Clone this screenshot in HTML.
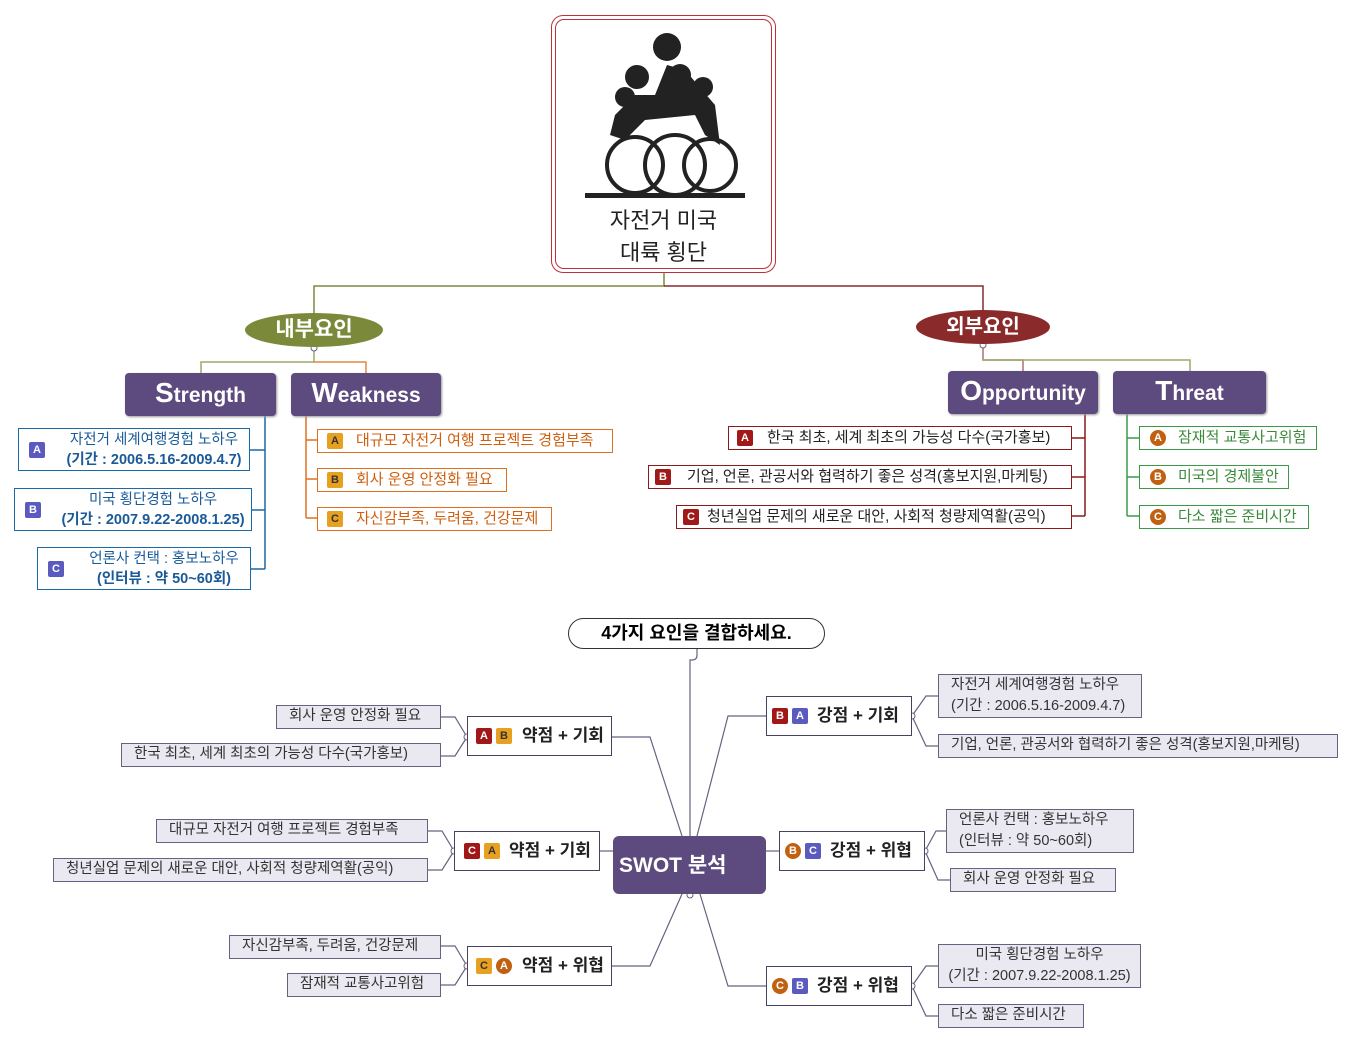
<!DOCTYPE html>
<html><head><meta charset="utf-8"><style>
*{margin:0;padding:0;box-sizing:border-box}
body{width:1360px;height:1041px;background:#fff;position:relative;overflow:hidden;font-family:"Liberation Sans","Noto Sans CJK KR",sans-serif}
.a{position:absolute}
.hd{position:absolute;background:#5d4a7e;color:#fff;border-radius:4px;font-weight:bold;font-size:21px;text-align:center;line-height:40px;box-shadow:1px 1px 2px #999}
.hd b{font-size:28px}
.sb{position:absolute;border:1.5px solid #1a6aa8;color:#1a5a98;font-size:14.5px;line-height:20px;text-align:center;padding:1px 0 0 40px}
.bd{position:absolute;width:16px;height:16px;border-radius:2px;color:#fff;font-size:11px;font-weight:bold;line-height:16px;text-align:center}
.ci{border-radius:50%}
.ob{position:absolute;border:1.5px solid;font-size:15px;line-height:22px;padding-left:38px;white-space:nowrap}
.br{position:absolute;background:#fff;border:1.5px solid #4a4060;font-size:17px;font-weight:bold;line-height:38px;padding-left:36px;white-space:nowrap;color:#222}
.lf{position:absolute;background:#eae8f0;border:1.5px solid #6a6080;font-size:14.5px;line-height:21px;padding:0 12px;white-space:nowrap;color:#333}
</style></head><body>
<svg class="a" style="left:0;top:0" width="1360" height="1041">
<g fill="none" stroke-width="1.5">
<path d="M664 273V286H314V313" stroke="#7a8a3a"/>
<path d="M664 286H983V310" stroke="#8b2a2a"/>
<path d="M314 347V362H201V373" stroke="#9aaa6a"/>
<path d="M314 362H366V373" stroke="#e08a40"/>
<path d="M983 344V360H1023V371" stroke="#b07070"/>
<path d="M983 360H1190V371" stroke="#9aaa6a"/>
<path d="M265 412V569M250 450H265M252 510H265M251 569H265" stroke="#1a6aa8"/>
<path d="M306 412V518M306 440H317M306 479H317M306 518H317" stroke="#e07020"/>
<path d="M1085 410V516M1072 438H1085M1072 477H1085M1072 516H1085" stroke="#8b1a1a"/>
<path d="M1127 410V516M1127 438H1139M1127 477H1139M1127 516H1139" stroke="#3a9a4a"/>
<g stroke="#6a6080" stroke-width="1.2">
<path d="M697 648V655Q697 660 692 660H690V836"/>
<path d="M612 737H650L682 836"/>
<path d="M600 851H613"/>
<path d="M612 966H650L682 894"/>
<path d="M766 716H728L697 836"/>
<path d="M779 851H766"/>
<path d="M766 986H728L700 894"/>
<path d="M467 737L455 717H441M467 737L455 756H441"/>
<path d="M454 851L442 831H428M454 851L442 870H428"/>
<path d="M467 966L455 946H441M467 966L455 985H441"/>
<path d="M912 716L926 696H938M912 716L926 746H938"/>
<path d="M925 851L936 831H946M925 851L938 880H950"/>
<path d="M912 986L926 966H938M912 986L926 1016H938"/>
</g></g>
<g fill="#fff" stroke="#6a6080"><circle cx="467" cy="737" r="3"/><circle cx="454" cy="851" r="3"/><circle cx="467" cy="966" r="3"/><circle cx="912" cy="716" r="3"/><circle cx="925" cy="851" r="3"/><circle cx="912" cy="986" r="3"/><circle cx="690" cy="895" r="3"/><circle cx="314" cy="348" r="3"/><circle cx="983" cy="345" r="3"/></g>
</svg>
<div class="a" style="left:551px;top:15px;width:225px;height:258px;border:1.5px solid #c0303a;border-radius:12px;padding:3px"><div style="width:100%;height:100%;border:1.5px solid #c0303a;border-radius:9px"></div></div>
<svg class="a" style="left:585px;top:25px" width="160" height="175">
<g fill="#222"><circle cx="82" cy="22" r="14"/><circle cx="52" cy="52" r="12"/><circle cx="95" cy="50" r="11"/><circle cx="118" cy="62" r="10"/><circle cx="40" cy="72" r="10"/>
<path d="M30 90L50 70H70L82 40L100 45L130 80L135 120L120 110L110 90L60 95L40 115L25 110Z"/>
<rect x="0" y="168" width="160" height="5"/></g>
<g fill="none" stroke="#222" stroke-width="4"><circle cx="50" cy="140" r="28"/><circle cx="90" cy="140" r="30"/><circle cx="125" cy="140" r="26"/></g>
</svg>
<div class="a" style="left:551px;top:205px;width:225px;text-align:center;font-size:22px;line-height:32px;color:#222">자전거 미국<br>대륙 횡단</div>
<div class="a" style="left:245px;top:313px;width:138px;height:34px;border-radius:50%;background:#7a8a3a;color:#fff;font-size:21px;font-weight:bold;text-align:center;line-height:34px">내부요인</div>
<div class="a" style="left:916px;top:310px;width:134px;height:34px;border-radius:50%;background:#8b2a2a;color:#fff;font-size:20px;font-weight:bold;text-align:center;line-height:34px">외부요인</div>
<div class="hd" style="left:125px;top:373px;width:151px"><b>S</b>trength</div>
<div class="hd" style="left:291px;top:373px;width:150px"><b>W</b>eakness</div>
<div class="hd" style="left:948px;top:371px;width:150px"><b>O</b>pportunity</div>
<div class="hd" style="left:1113px;top:371px;width:153px"><b>T</b>hreat</div>
<div class="sb" style="left:18px;top:428px;width:232px;height:43px">자전거 세계여행경험 노하우<br><b>(기간 : 2006.5.16-2009.4.7)</b></div>
<div class="bd" style="left:29px;top:442px;background:#5a5abf">A</div>
<div class="sb" style="left:14px;top:488px;width:238px;height:43px">미국 횡단경험 노하우<br><b>(기간 : 2007.9.22-2008.1.25)</b></div>
<div class="bd" style="left:25px;top:502px;background:#5a5abf">B</div>
<div class="sb" style="left:37px;top:547px;width:214px;height:43px">언론사 컨택 : 홍보노하우<br><b>(인터뷰 : 약 50~60회)</b></div>
<div class="bd" style="left:48px;top:561px;background:#5a5abf">C</div>
<div class="ob" style="left:317px;top:429px;width:296px;height:24px;border-color:#e07020;color:#d06010">대규모 자전거 여행 프로젝트 경험부족</div>
<div class="bd" style="left:327px;top:433px;background:#e8a020;color:#333">A</div>
<div class="ob" style="left:317px;top:468px;width:190px;height:24px;border-color:#e07020;color:#d06010">회사 운영 안정화 필요</div>
<div class="bd" style="left:327px;top:472px;background:#e8a020;color:#333">B</div>
<div class="ob" style="left:317px;top:507px;width:235px;height:24px;border-color:#e07020;color:#d06010">자신감부족, 두려움, 건강문제</div>
<div class="bd" style="left:327px;top:511px;background:#e8a020;color:#333">C</div>
<div class="ob" style="left:728px;top:426px;width:344px;height:24px;border-color:#8b1a1a;color:#222">한국 최초, 세계 최초의 가능성 다수(국가홍보)</div>
<div class="bd" style="left:737px;top:430px;background:#a01818">A</div>
<div class="ob" style="left:648px;top:465px;width:424px;height:24px;border-color:#8b1a1a;color:#222">기업, 언론, 관공서와 협력하기 좋은 성격(홍보지원,마케팅)</div>
<div class="bd" style="left:655px;top:469px;background:#a01818">B</div>
<div class="ob" style="left:676px;top:505px;width:396px;height:24px;border-color:#8b1a1a;color:#222;padding-left:30px">청년실업 문제의 새로운 대안, 사회적 청량제역활(공익)</div>
<div class="bd" style="left:683px;top:509px;background:#a01818">C</div>
<div class="ob" style="left:1139px;top:426px;width:178px;height:24px;border-color:#3a9a4a;color:#3a8a3a">잠재적 교통사고위험</div>
<div class="bd ci" style="left:1150px;top:430px;background:#c06010">A</div>
<div class="ob" style="left:1139px;top:465px;width:150px;height:24px;border-color:#3a9a4a;color:#3a8a3a">미국의 경제불안</div>
<div class="bd ci" style="left:1150px;top:469px;background:#c06010">B</div>
<div class="ob" style="left:1139px;top:505px;width:170px;height:24px;border-color:#3a9a4a;color:#3a8a3a">다소 짧은 준비시간</div>
<div class="bd ci" style="left:1150px;top:509px;background:#c06010">C</div>
<div class="a" style="left:568px;top:618px;width:257px;height:31px;border:1.5px solid #333;border-radius:16px;text-align:center;font-size:18px;font-weight:bold;line-height:28px">4가지 요인을 결합하세요.</div>
<div class="a" style="left:613px;top:836px;width:153px;height:58px;background:#5d4a7e;border-radius:6px;color:#fff;font-size:21px;font-weight:bold;line-height:60px;padding-left:6px">SWOT 분석</div>
<div class="br" style="left:467px;top:716px;width:145px;height:40px;padding-left:54px">약점 + 기회</div>
<div class="bd" style="left:476px;top:728px;background:#a01818">A</div><div class="bd" style="left:496px;top:728px;background:#e8a020;color:#333">B</div>
<div class="br" style="left:454px;top:831px;width:146px;height:40px;padding-left:54px">약점 + 기회</div>
<div class="bd" style="left:464px;top:843px;background:#a01818">C</div><div class="bd" style="left:484px;top:843px;background:#e8a020;color:#333">A</div>
<div class="br" style="left:467px;top:946px;width:145px;height:40px;padding-left:54px">약점 + 위협</div>
<div class="bd" style="left:476px;top:958px;background:#e8a020;color:#333">C</div><div class="bd ci" style="left:496px;top:958px;background:#c06010">A</div>
<div class="br" style="left:766px;top:696px;width:146px;height:40px;padding-left:50px">강점 + 기회</div>
<div class="bd" style="left:772px;top:708px;background:#a01818">B</div><div class="bd" style="left:792px;top:708px;background:#5a5abf">A</div>
<div class="br" style="left:779px;top:831px;width:146px;height:40px;padding-left:50px">강점 + 위협</div>
<div class="bd ci" style="left:785px;top:843px;background:#c06010">B</div><div class="bd" style="left:805px;top:843px;background:#5a5abf">C</div>
<div class="br" style="left:766px;top:966px;width:146px;height:40px;padding-left:50px">강점 + 위협</div>
<div class="bd ci" style="left:772px;top:978px;background:#c06010">C</div><div class="bd" style="left:792px;top:978px;background:#5a5abf">B</div>
<div class="lf" style="left:276px;top:705px;width:165px;height:24px">회사 운영 안정화 필요</div>
<div class="lf" style="left:121px;top:743px;width:320px;height:24px">한국 최초, 세계 최초의 가능성 다수(국가홍보)</div>
<div class="lf" style="left:156px;top:819px;width:272px;height:24px">대규모 자전거 여행 프로젝트 경험부족</div>
<div class="lf" style="left:53px;top:858px;width:375px;height:24px">청년실업 문제의 새로운 대안, 사회적 청량제역활(공익)</div>
<div class="lf" style="left:229px;top:935px;width:212px;height:24px">자신감부족, 두려움, 건강문제</div>
<div class="lf" style="left:287px;top:973px;width:154px;height:24px">잠재적 교통사고위험</div>
<div class="lf" style="left:938px;top:674px;width:204px;height:44px">자전거 세계여행경험 노하우<br>(기간 : 2006.5.16-2009.4.7)</div>
<div class="lf" style="left:938px;top:734px;width:400px;height:24px">기업, 언론, 관공서와 협력하기 좋은 성격(홍보지원,마케팅)</div>
<div class="lf" style="left:946px;top:809px;width:188px;height:44px">언론사 컨택 : 홍보노하우<br>(인터뷰 : 약 50~60회)</div>
<div class="lf" style="left:950px;top:868px;width:166px;height:24px">회사 운영 안정화 필요</div>
<div class="lf" style="left:938px;top:944px;width:203px;height:44px;text-align:center;padding:0 4px">미국 횡단경험 노하우<br>(기간 : 2007.9.22-2008.1.25)</div>
<div class="lf" style="left:938px;top:1004px;width:146px;height:24px">다소 짧은 준비시간</div>
</body></html>
